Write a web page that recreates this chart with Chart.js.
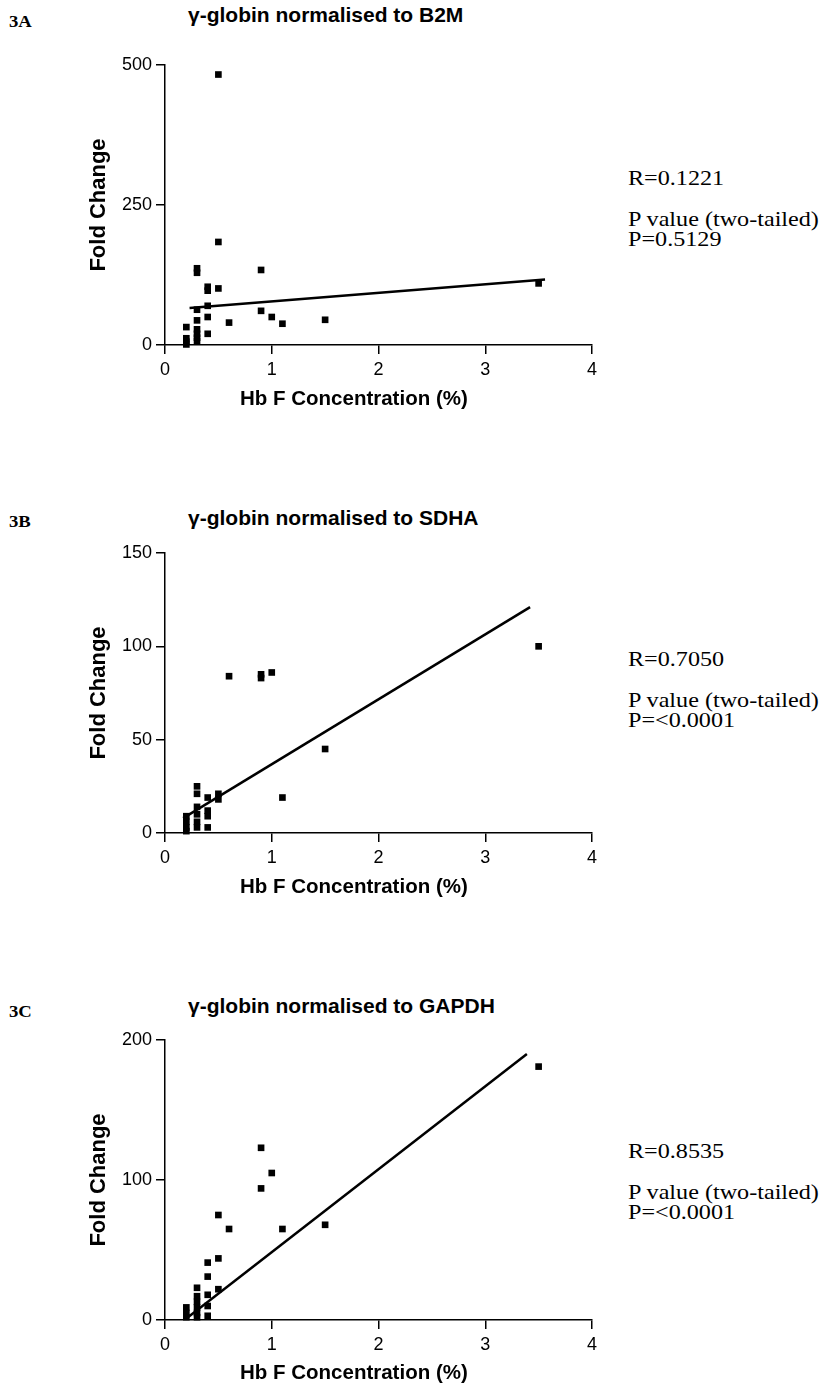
<!DOCTYPE html>
<html>
<head>
<meta charset="utf-8">
<script src="https://cdn.jsdelivr.net/npm/chart.js@4/dist/chart.umd.min.js"></script>
<style>
  body { margin: 0; background: #fff; width: 831px; height: 1389px; position: relative; overflow: hidden; }
  .panel { position: absolute; left: 0; width: 620px; height: 430px; }
  .letter { position: absolute; left: 9px; font: bold 17px "Liberation Serif", serif; line-height: 20px; transform: scaleX(1.1); transform-origin: left; }
  .title { position: absolute; left: 188px; font: bold 21px "Liberation Sans", Arial, sans-serif; line-height: 24px; white-space: nowrap; }
  .xtitle { position: absolute; left: 240px; font: bold 20.5px "Liberation Sans", Arial, sans-serif; line-height: 24px; white-space: nowrap; }
  .stats { position: absolute; left: 628px; font: 21px "Liberation Serif", serif; line-height: 20px; white-space: nowrap; transform: scaleX(1.15); transform-origin: left; }
  .gap { height: 21px; }
</style>
</head>
<body>
<div class="letter" style="top:12px">3A</div>
<div class="title" style="top:3px">γ-globin normalised to B2M</div>
<div class="panel" style="top:0px"><canvas id="chartA" width="620" height="430"></canvas></div>
<div class="xtitle" style="top:386px">Hb F Concentration (%)</div>
<div class="stats" style="top:168px">R=0.1221<div class="gap"></div>P value (two-tailed)<br>P=0.5129</div>

<div class="letter" style="top:512px">3B</div>
<div class="title" style="top:506px">γ-globin normalised to SDHA</div>
<div class="panel" style="top:488px"><canvas id="chartB" width="620" height="430"></canvas></div>
<div class="xtitle" style="top:874px">Hb F Concentration (%)</div>
<div class="stats" style="top:649px">R=0.7050<div class="gap"></div>P value (two-tailed)<br>P=&lt;0.0001</div>

<div class="letter" style="top:1002px">3C</div>
<div class="title" style="top:994px">γ-globin normalised to GAPDH</div>
<div class="panel" style="top:975px"><canvas id="chartC" width="620" height="430"></canvas></div>
<div class="xtitle" style="top:1360px">Hb F Concentration (%)</div>
<div class="stats" style="top:1141px">R=0.8535<div class="gap"></div>P value (two-tailed)<br>P=&lt;0.0001</div>

<script>
'use strict';

// Hb F concentration (%) for each sample, per panel
let hbfB2M   = [0.2,0.2,0.2,0.2, 0.3,0.3,0.3,0.3,0.3,0.3,0.3,0.3, 0.4,0.4,0.4,0.4,0.4, 0.5,0.5,0.5, 0.6, 0.9,0.9, 1.0, 1.1, 1.5, 3.5];
let foldB2M  = [32,12,6,1, 137,129,63,44,28,20,13,7, 104,97,70,50,20, 483,184,101, 40, 134,61, 50, 38, 45, 110];

let hbfSDHA  = [0.2,0.2,0.2,0.2, 0.3,0.3,0.3,0.3,0.3,0.3, 0.4,0.4,0.4,0.4, 0.5,0.5, 0.6, 0.9,0.9, 1.0, 1.1, 1.5, 3.5];
let foldSDHA = [9,6,3,1, 25,21,14,10,6,3, 19,12,9,3, 21,18, 84, 85,83, 86, 19, 45, 100];

let hbfGAPDH  = [0.2,0.2,0.2, 0.3,0.3,0.3,0.3,0.3,0.3, 0.4,0.4,0.4,0.4,0.4, 0.5,0.5,0.5, 0.6, 0.9,0.9, 1.0, 1.1, 1.5, 3.5];
let foldGAPDH = [9,5,2, 23,17,13,9,5,2, 41,31,18,10,3, 75,44,22, 65, 123,94, 105, 65, 68, 181];

// regression line ends
let fitX_B2M = [0.23, 3.56];   let fitY_B2M = [66, 117];
let fitX_SDHA = [0.17, 3.42];  let fitY_SDHA = [8, 121];
let fitX_GAPDH = [0.2, 3.39];  let fitY_GAPDH = [1, 190];

let xTicks = [0, 1, 2, 3, 4];
let yMaxA = 500, yStepA = 250;
let yMaxB = 150, yStepB = 50;
let yMaxC = 200, yStepC = 100;

function toPoints(xs, ys){
    let pts = [];
    for(let i = 0; i < xs.length; i++){
        pts.push({x: xs[i], y: ys[i]});
    }
    return pts;
}

function chartRender(id, xs, ys, fx, fy, yMax, yStep){
    let ctx = document.getElementById(id).getContext('2d');
    new Chart(ctx, {
        type: 'scatter',
        data: {
            datasets: [{
                data: toPoints(xs, ys),
                pointStyle: 'rect',
                pointRadius: 4.7,
                pointBorderWidth: 0,
                backgroundColor: '#000',
                borderColor: '#000'
            }, {
                type: 'line',
                data: toPoints(fx, fy),
                borderColor: '#000',
                borderWidth: 2.5,
                pointRadius: 0,
                fill: false
            }]
        },
        options: {
            responsive: false,
            animation: false,
            clip: false,
            layout: { padding: { top: 65, right: 28, left: 0, bottom: 0 } },
            plugins: { legend: { display: false }, tooltip: { enabled: false } },
            scales: {
                x: {
                    type: 'linear',
                    min: 0, max: 4,
                    afterFit: function(scale){ scale.height = 85; },
                    afterBuildTicks: function(scale){ scale.ticks = xTicks.map(v => ({value: v})); },
                    border: { display: true, color: '#000', width: 1.5 },
                    grid: { drawOnChartArea: false, drawTicks: true, tickLength: 9, color: '#000', lineWidth: 1.5 },
                    ticks: { color: '#000', padding: 5, font: { family: 'Liberation Sans', size: 18 } }
                },
                y: {
                    min: 0, max: yMax,
                    afterFit: function(scale){ scale.width = 165; },
                    border: { display: true, color: '#000', width: 1.5 },
                    grid: { drawOnChartArea: false, drawTicks: true, tickLength: 9, color: '#000', lineWidth: 1.5 },
                    ticks: { stepSize: yStep, color: '#000', padding: 4, font: { family: 'Liberation Sans', size: 18 } },
                    title: { display: true, text: 'Fold Change', color: '#000', padding: { top: 86 },
                             font: { family: 'Liberation Sans', size: 22, weight: 'bold' } }
                }
            }
        }
    });
}

chartRender('chartA', hbfB2M, foldB2M, fitX_B2M, fitY_B2M, yMaxA, yStepA);
chartRender('chartB', hbfSDHA, foldSDHA, fitX_SDHA, fitY_SDHA, yMaxB, yStepB);
chartRender('chartC', hbfGAPDH, foldGAPDH, fitX_GAPDH, fitY_GAPDH, yMaxC, yStepC);
</script>
</body>
</html>
